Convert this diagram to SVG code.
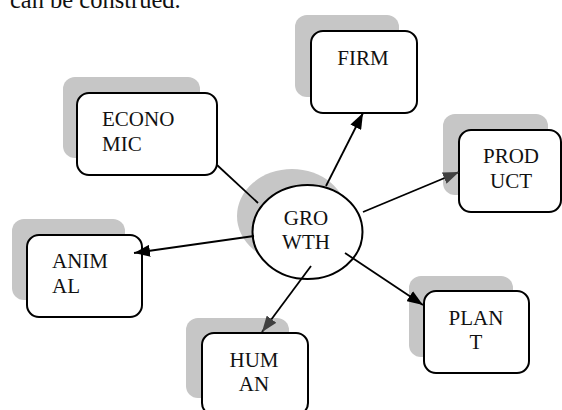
<svg xmlns="http://www.w3.org/2000/svg" width="562" height="410" viewBox="0 0 562 410">
<style>
text{font-family:"Liberation Serif","Times New Roman",serif;font-size:21px;fill:#111}
.sh{fill:#c6c6c6;stroke:none}
.bx{fill:#fff;stroke:#000;stroke-width:2}
.ln{stroke:#000;stroke-width:1.8;fill:none}
.c{text-anchor:middle}
</style>
<defs>
<marker id="ab" viewBox="0 0 16 12" refX="16" refY="6" markerWidth="16" markerHeight="12" markerUnits="userSpaceOnUse" orient="auto"><path d="M0,0 L16,6 L0,12 z" fill="#000"/></marker>
<marker id="ag" viewBox="0 0 16 12" refX="16" refY="6" markerWidth="16" markerHeight="12" markerUnits="userSpaceOnUse" orient="auto"><path d="M0,0 L16,6 L0,12 z" fill="#404040"/></marker>
</defs>
<text x="10" y="8" style="font-size:24.5px">can be construed.</text>
<g id="firm">
<rect class="sh" x="295" y="15" width="104" height="82" rx="12"/>
<rect class="bx" x="311" y="31" width="106" height="82" rx="12"/>
<text class="c" x="363" y="65">FIRM</text>
</g>
<g id="economic">
<rect class="sh" x="63" y="77" width="137" height="81" rx="12"/>
<rect class="bx" x="77" y="93" width="140" height="82" rx="12"/>
<text x="102" y="126">ECONO</text>
<text x="102" y="151">MIC</text>
</g>
<g id="product">
<rect class="sh" x="443" y="114" width="105" height="81" rx="12"/>
<rect class="bx" x="459" y="130" width="102" height="82" rx="12"/>
<text class="c" x="511" y="163">PROD</text>
<text class="c" x="511" y="188">UCT</text>
</g>
<g id="growth">
<ellipse class="sh" cx="292" cy="216" rx="55" ry="47"/>
<ellipse class="bx" cx="307.5" cy="232" rx="55" ry="47"/>
<text class="c" x="306" y="225">GRO</text>
<text class="c" x="306" y="249">WTH</text>
</g>
<g id="animal">
<rect class="sh" x="12" y="219" width="113" height="81" rx="12"/>
<rect class="bx" x="27" y="235" width="115" height="82" rx="12"/>
<text x="52" y="268">ANIM</text>
<text x="52" y="293">AL</text>
</g>
<g id="plant">
<rect class="sh" x="409" y="276" width="104" height="81" rx="12"/>
<rect class="bx" x="424" y="291" width="105" height="82" rx="12"/>
<text class="c" x="476" y="325">PLAN</text>
<text class="c" x="476" y="349">T</text>
</g>
<g id="human">
<rect class="sh" x="186" y="318" width="103" height="80" rx="12"/>
<rect class="bx" x="202" y="333" width="106" height="82" rx="12"/>
<text class="c" x="254" y="367">HUM</text>
<text class="c" x="254" y="391">AN</text>
</g>
<g id="connectors">
<line class="ln" x1="217" y1="165" x2="258" y2="203"/>
<line class="ln" x1="326" y1="186" x2="363" y2="113" marker-end="url(#ab)"/>
<line class="ln" x1="363" y1="212" x2="459" y2="172" marker-end="url(#ag)"/>
<line class="ln" x1="254" y1="236" x2="134" y2="253" marker-end="url(#ab)"/>
<line class="ln" x1="345" y1="253" x2="423" y2="305" marker-end="url(#ab)"/>
<line class="ln" x1="311" y1="266" x2="262" y2="332" marker-end="url(#ag)"/>
</g>
</svg>
